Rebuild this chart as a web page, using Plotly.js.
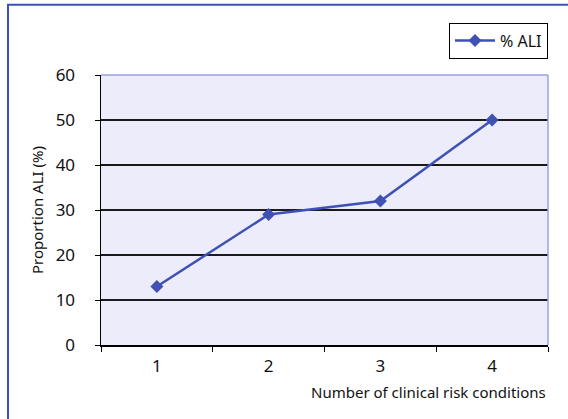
<!DOCTYPE html>
<html>
<head>
<meta charset="utf-8">
<script src="https://cdn.plot.ly/plotly-3.0.1.min.js"></script>
<style>
  html, body { margin: 0; padding: 0; background: #ffffff; overflow: hidden; }
  #chart { width: 568px; height: 419px; }
</style>
</head>
<body>
<div id="chart"></div>
<script>
// Share of ALI by number of clinical risk conditions
const riskConditions = ['1', '2', '3', '4'];
const aliPercent = [13, 29, 32, 50];
const seriesName = '% ALI';
const yTicks = [0, 10, 20, 30, 40, 50, 60];

const FONT = 'Noto Sans, sans-serif';
const LINE_BLUE = '#3f51b5';

const W = 568, H = 419;
const M = { l: 101, r: 20, t: 74.5, b: 74 };
const plotW = W - M.l - M.r, plotH = H - M.t - M.b;
// pixel -> paper fraction helpers for the outer chart frame
const px = v => (v - M.l) / plotW;
const py = v => (H - M.b - v) / plotH;

const trace = {
  x: riskConditions,
  y: aliPercent,
  name: seriesName,
  type: 'scatter',
  mode: 'lines+markers',
  line: { color: LINE_BLUE, width: 2.5 },
  marker: { symbol: 'diamond', size: 10, color: LINE_BLUE },
  showlegend: true
};

const layout = {
  width: W,
  height: H,
  margin: M,
  paper_bgcolor: '#ffffff',
  plot_bgcolor: '#ececfa',
  font: { family: FONT, color: '#111111' },
  showlegend: true,
  legend: {
    x: 1, xanchor: 'right', xref: 'paper',
    y: py(22), yanchor: 'top', yref: 'paper',
    bgcolor: '#ffffff', bordercolor: '#000000', borderwidth: 1,
    font: { family: FONT, size: 16, color: '#111111' },
    itemwidth: 40,
    tracegroupgap: 0
  },
  xaxis: {
    type: 'category',
    categoryorder: 'array',
    categoryarray: riskConditions,
    range: [-0.5, riskConditions.length - 0.5],
    tickson: 'boundaries',
    ticks: 'outside', ticklen: 5, tickwidth: 1, tickcolor: '#000000',
    showline: true, linecolor: '#000000', linewidth: 1.5,
    showgrid: false, zeroline: false,
    ticklabelstandoff: 5,
    tickfont: { family: FONT, size: 17, color: '#111111' },
    fixedrange: true
  },
  yaxis: {
    range: [0, 60],
    tickvals: yTicks,
    ticktext: yTicks.map(String),
    ticks: 'outside', ticklen: 5, tickwidth: 1, tickcolor: '#000000',
    showline: true, linecolor: '#000000', linewidth: 1.5,
    showgrid: true, gridcolor: '#1a1a1a', gridwidth: 1.2,
    zeroline: false,
    ticklabelstandoff: 16,
    tickfont: { family: FONT, size: 17, color: '#111111' },
    title: { text: 'Proportion ALI (%)', font: { family: FONT, size: 15, color: '#111111' }, standoff: 8 },
    fixedrange: true
  },
  shapes: [
    // outer chart frame, running off the right and bottom edges
    { type: 'rect', xref: 'paper', yref: 'paper',
      x0: px(8), x1: px(W + 40), y0: py(H + 40), y1: py(4),
      line: { color: '#3f51b5', width: 2 }, fillcolor: 'rgba(0,0,0,0)', layer: 'below' },
    // light frame along the top and right of the plotting area
    { type: 'line', xref: 'paper', yref: 'paper', x0: 0, x1: 1, y0: 1, y1: 1,
      line: { color: '#9aa2e2', width: 1.5 }, layer: 'above' },
    { type: 'line', xref: 'paper', yref: 'paper', x0: 1, x1: 1, y0: 0, y1: 1,
      line: { color: '#9aa2e2', width: 1.5 }, layer: 'above' }
  ],
  annotations: [
    { text: 'Number of clinical risk conditions', xref: 'paper', yref: 'paper',
      x: 1, xanchor: 'right', y: py(392), yanchor: 'middle', showarrow: false,
      font: { family: FONT, size: 15, color: '#111111' } }
  ]
};

Plotly.newPlot('chart', [trace], layout, { displayModeBar: false, staticPlot: true });
</script>
</body>
</html>
